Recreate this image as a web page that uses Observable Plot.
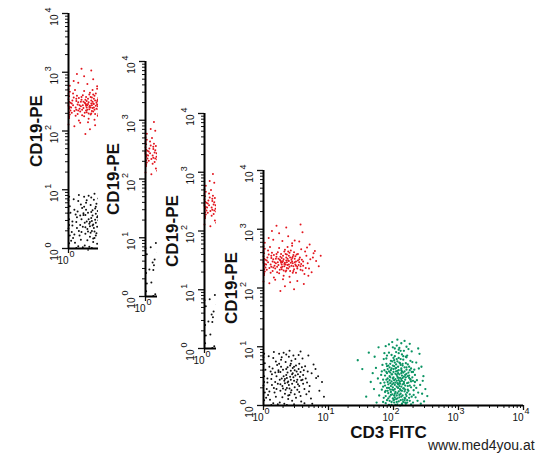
<!DOCTYPE html>
<html>
<head>
<meta charset="utf-8">
<script src="https://cdn.jsdelivr.net/npm/d3@7"></script>
<script src="https://cdn.jsdelivr.net/npm/@observablehq/plot@0.6"></script>
<style>
  html, body { margin: 0; padding: 0; background: #ffffff; }
  #chart { position: relative; width: 540px; height: 453px; overflow: hidden; background: #ffffff; font-family: "Liberation Sans", Arial, sans-serif; }
  #chart svg { position: absolute; }
  #wm { position: absolute; left: 428px; top: 437px; font-size: 14px; color: #222; font-family: "Liberation Sans", Arial, sans-serif; white-space: nowrap; }
</style>
</head>
<body>
<div id="chart"></div>
<script>
// Axis tick values (log decades of fluorescence intensity)
const majorExponents = [0, 1, 2, 3, 4];
const minorMultipliers = [2, 3, 4, 5, 6, 7, 8, 9];
const xTitle = "CD3 FITC";
const yTitle = "CD19-PE";
const watermark = "www.med4you.at";

// Events as [log10 CD3 FITC, log10 CD19-PE]
const redPoints = [
[0.02,2.41],[0.35,2.52],[0.18,2.33],[0.47,2.61],[0.29,2.44],[0.61,2.38],[0.08,2.57],[0.41,2.29],[0.24,2.68],[0.53,2.47],
[0.01,2.22],[0.37,2.39],[0.15,2.49],[0.66,2.55],[0.31,2.21],[0.44,2.72],[0.12,2.36],[0.57,2.31],[0.27,2.58],[0.39,2.46],
[0.00,2.63],[0.49,2.40],[0.21,2.27],[0.72,2.49],[0.33,2.65],[0.05,2.31],[0.45,2.53],[0.19,2.42],[0.58,2.66],[0.36,2.34],
[0.01,2.50],[0.26,2.47],[0.63,2.24],[0.42,2.43],[0.10,2.70],[0.52,2.36],[0.30,2.55],[0.16,2.18],[0.48,2.50],[0.77,2.59],
[0.03,2.35],[0.38,2.62],[0.23,2.39],[0.55,2.44],[0.34,2.28],[0.13,2.60],[0.46,2.37],[0.68,2.42],[0.28,2.51],[0.40,2.19],
[0.00,2.46],[0.51,2.57],[0.20,2.53],[0.60,2.30],[0.32,2.41],[0.07,2.44],[0.43,2.48],[0.25,2.31],[0.56,2.52],[0.37,2.70],
[0.02,2.28],[0.14,2.45],[0.64,2.62],[0.29,2.36],[0.50,2.26],[0.81,2.46],[0.22,2.61],[0.45,2.42],[0.35,2.47],[0.11,2.26],
[0.01,2.59],[0.54,2.39],[0.27,2.43],[0.70,2.33],[0.39,2.55],[0.17,2.38],[0.47,2.32],[0.31,2.49],[0.59,2.48],[0.06,2.52],
[0.09,2.08],[0.33,2.03],[0.52,2.12],[0.26,1.95],[0.41,2.10],[0.18,2.14],[0.62,2.07],[0.47,1.98],[0.30,2.15],[0.00,2.11],
[0.15,2.82],[0.38,2.88],[0.55,2.79],[0.24,2.93],[0.44,2.76],[0.08,2.85],[0.60,2.95],[0.35,3.03],[0.20,3.06],[0.48,2.81],
[0.02,2.77],[0.71,2.74],[0.29,2.80],[0.13,2.97],[0.57,3.08],
[0.36,2.44],[0.43,2.38],[0.28,2.40],[0.50,2.45],[0.32,2.37],[0.41,2.52],[0.25,2.48],[0.46,2.29],[0.38,2.33],[0.53,2.58],
[0.19,2.50],[0.34,2.58],[0.44,2.45],[0.27,2.35],[0.58,2.41],[0.40,2.60],[0.22,2.44],[0.49,2.54],[0.31,2.30],[0.37,2.50],
[0.01,2.38],[0.00,2.54],[0.02,2.67],[0.01,2.32],[0.00,2.43],[0.03,2.48],[0.01,2.25],[0.00,2.71],
[0.85,2.37],[0.76,2.52],[0.67,2.69],[0.74,2.27],[0.65,2.34],[0.79,2.63],[0.88,2.55],[0.69,2.21],
[0.11,2.40],[0.16,2.56],[0.09,2.34],[0.14,2.29],[0.07,2.64],[0.12,2.51],[0.04,2.40],
[0.33,2.43],[0.21,2.36],[0.46,2.56],[0.39,2.40],[0.26,2.53],[0.52,2.33],[0.30,2.46],[0.17,2.44],[0.42,2.64],[0.35,2.30],
[0.55,2.49],[0.24,2.25],[0.48,2.44],[0.12,2.55],[0.36,2.57],[0.61,2.45],[0.28,2.32],[0.44,2.51],[0.20,2.58],[0.40,2.36],
[0.05,2.47],[0.32,2.62],[0.50,2.38],[0.23,2.50],[0.45,2.26],[0.15,2.35],[0.38,2.47],[0.57,2.37],[0.27,2.45],[0.34,2.40]
];

const blackPoints = [
[0.12,0.45],[0.35,0.62],[0.48,0.31],[0.27,0.78],[0.61,0.52],[0.05,0.28],[0.41,0.49],[0.19,0.15],[0.55,0.71],[0.33,0.38],
[0.70,0.24],[0.23,0.57],[0.46,0.85],[0.09,0.66],[0.38,0.11],[0.58,0.43],[0.29,0.33],[0.15,0.81],[0.51,0.58],[0.42,0.22],
[0.64,0.67],[0.01,0.50],[0.36,0.47],[0.25,0.05],[0.53,0.36],[0.18,0.40],[0.45,0.64],[0.74,0.55],[0.31,0.90],[0.07,0.18],
[0.40,0.29],[0.57,0.16],[0.21,0.69],[0.49,0.51],[0.34,0.74],[0.67,0.39],[0.13,0.53],[0.44,0.08],[0.28,0.46],[0.60,0.80],
[0.02,0.72],[0.37,0.56],[0.52,0.27],[0.16,0.30],[0.47,0.42],[0.81,0.47],[0.24,0.88],[0.39,0.35],[0.62,0.60],[0.10,0.10],
[0.33,0.20],[0.56,0.49],[0.20,0.50],[0.43,0.76],[0.71,0.33],[0.06,0.39],[0.30,0.61],[0.50,0.13],[0.26,0.25],[0.65,0.46],
[0.14,0.63],[0.38,0.41],[0.54,0.86],[0.00,0.34],[0.45,0.55],[0.32,0.03],[0.59,0.65],[0.22,0.37],[0.77,0.70],[0.41,0.68],
[0.08,0.84],[0.48,0.19],[0.35,0.52],[0.17,0.22],[0.63,0.28],[0.27,0.66],[0.52,0.44],[0.86,0.25],[0.11,0.58],[0.39,0.83],
[0.44,0.37],[0.29,0.14],[0.57,0.57],[0.03,0.61],[0.36,0.30],[0.68,0.58],[0.19,0.75],[0.47,0.66],[0.25,0.44],[0.73,0.12],
[0.40,0.93],[0.13,0.35],[0.55,0.23],[0.31,0.50],[0.01,0.09],[0.61,0.37],[0.23,0.60],[0.49,0.79],[0.34,0.27],[0.80,0.62],
[0.06,0.46],[0.42,0.59],[0.58,0.07],[0.20,0.28],[0.46,0.48],[0.28,0.82],[0.66,0.19],[0.37,0.65],[0.15,0.04],[0.53,0.53],
[0.90,0.40],[0.32,0.42],[0.00,0.82],[0.43,0.26],[0.24,0.71],[0.60,0.44],[0.09,0.24],[0.50,0.68],[0.38,0.17],[0.18,0.56],
[0.93,0.15],[0.26,0.36],[0.54,0.62],[0.04,0.13],[0.69,0.85],[0.35,0.87],[0.12,0.01],[0.47,0.02],[0.63,0.04],[0.22,0.02],
[0.01,0.40],[0.00,0.60],[0.02,0.22],[0.01,0.88],[0.75,0.03],[0.36,0.01],[0.84,0.50],[0.57,0.92],[0.16,0.91],[0.42,0.44],
[0.37,0.39],[0.44,0.53],[0.30,0.29],[0.51,0.40],[0.26,0.57],[0.40,0.18],[0.48,0.60],[0.33,0.45],[0.55,0.33],[0.42,0.71]
];

const greenPoints = [
[2.05,0.32],[1.93,0.58],[2.18,0.12],[2.01,0.77],[2.27,0.41],[1.88,0.25],[2.12,0.63],[1.97,0.06],[2.22,0.50],[2.08,0.89],
[1.84,0.44],[2.15,0.29],[2.03,0.54],[2.31,0.18],[1.95,0.71],[2.10,0.37],[1.90,0.09],[2.24,0.66],[2.06,0.21],[1.99,0.46],
[2.19,0.83],[1.86,0.60],[2.13,0.03],[2.02,0.35],[2.28,0.57],[1.94,0.15],[2.09,0.73],[2.35,0.30],[1.91,0.40],[2.16,0.49],
[2.04,0.11],[1.82,0.27],[2.21,0.38],[2.00,0.62],[2.11,0.93],[1.96,0.33],[2.25,0.08],[2.07,0.47],[1.89,0.80],[2.17,0.24],
[2.33,0.52],[1.98,0.19],[2.14,0.68],[2.03,0.01],[1.87,0.51],[2.20,0.16],[2.06,0.59],[1.92,0.36],[2.29,0.74],[2.10,0.28],
[2.01,0.43],[2.23,0.96],[1.85,0.13],[2.12,0.55],[1.97,0.86],[2.38,0.22],[2.08,0.07],[1.94,0.65],[2.18,0.34],[2.04,0.70],
[1.80,0.38],[2.26,0.45],[2.00,0.26],[2.15,0.78],[1.90,0.55],[2.09,0.14],[2.32,0.61],[1.99,0.99],[2.21,0.05],[2.05,0.52],
[1.83,0.69],[2.13,0.42],[1.96,0.23],[2.27,0.31],[2.02,0.84],[2.17,0.58],[1.88,0.04],[2.11,0.20],[2.36,0.43],[1.95,0.48],
[2.07,0.66],[2.24,0.13],[1.93,0.30],[2.19,0.72],[2.03,0.39],[1.86,0.89],[2.14,0.10],[2.30,0.05],[2.00,0.57],[2.10,0.47],
[1.78,0.17],[2.22,0.27],[1.98,0.75],[2.16,0.37],[2.06,0.02],[1.91,0.62],[2.28,0.92],[2.12,0.32],[1.97,0.41],[2.20,0.54],
[2.41,0.35],[1.87,0.34],[2.08,0.81],[2.25,0.60],[2.01,0.17],[1.94,0.50],[2.15,0.06],[2.04,0.64],[2.34,0.14],[1.89,0.71],
[2.18,0.44],[2.05,1.02],[1.81,0.52],[2.11,0.69],[1.99,0.12],[2.23,0.39],[2.09,0.53],[1.92,0.21],[2.29,0.48],[2.13,0.87],
[2.02,0.28],[1.85,0.79],[2.19,0.19],[2.07,0.36],[2.39,0.63],[1.96,0.60],[2.14,0.47],[2.00,0.09],[2.26,0.76],[1.90,0.30],
[2.17,0.65],[2.03,0.45],[1.76,0.46],[2.21,0.85],[2.10,0.00],[1.95,0.38],[2.31,0.26],[2.06,0.75],[1.88,0.16],[2.16,0.29],
[2.44,0.20],[1.98,0.53],[2.12,0.15],[2.24,0.51],[2.01,0.67],[1.84,0.06],[2.20,0.61],[2.08,0.24],[1.93,0.90],[2.27,0.02],
[2.05,0.42],[2.15,0.56],[1.97,0.01],[2.33,0.40],[1.91,0.46],[2.11,0.79],[2.02,0.20],[2.22,0.70],[1.86,0.39],[2.18,0.05],
[2.07,0.55],[1.99,0.31],[2.35,0.73],[2.13,0.25],[1.94,0.08],[2.25,0.34],[2.04,0.91],[1.82,0.58],[2.19,0.48],[2.09,0.38],
[1.73,0.64],[2.28,0.15],[2.00,0.48],[2.16,0.93],[1.96,0.18],[2.12,0.60],[2.37,0.08],[1.89,0.44],[2.06,0.12],[2.23,0.25],
[2.14,0.36],[2.01,0.05],[1.92,0.68],[2.30,0.57],[2.08,0.43],[2.20,0.82],[1.87,0.23],[2.03,0.63],[2.17,0.13],[1.95,0.56],
[2.26,0.44],[2.10,0.72],[1.98,0.27],[2.46,0.50],[2.05,0.17],[1.84,0.32],[2.21,0.09],[2.13,0.51],[1.90,0.85],[2.32,0.34],
[1.45,0.77],[1.58,0.15],[1.65,0.40],[1.62,0.90],[1.70,0.28],[1.68,0.55],[1.74,0.05],[1.52,0.62],[1.71,0.83],[1.77,0.99],
[2.49,0.28],[2.47,0.07],[2.43,0.66],[2.40,0.88],[2.45,0.42],[2.52,0.16],[2.42,0.03],[2.38,0.97],
[1.98,1.08],[2.12,1.06],[2.06,1.12],[1.93,1.04],[2.20,1.00],[2.17,1.10],[2.02,0.97],[1.88,1.01],[2.25,1.05],[2.09,0.98],
[2.02,0.14],[2.16,0.40],[1.95,0.27],[2.08,0.60],[2.21,0.22],[1.99,0.68],[2.11,0.09],[2.05,0.79],[2.24,0.47],[1.92,0.12],
[2.14,0.71],[2.00,0.38],[2.19,0.03],[2.07,0.30],[1.97,0.53],[2.27,0.63],[2.09,0.18],[1.94,0.43],[2.13,0.58],[2.03,0.23],
[2.22,0.33],[1.90,0.67],[2.06,0.49],[2.18,0.27],[2.01,0.10],[2.15,0.84],[1.96,0.76],[2.10,0.41],[2.25,0.19],[2.04,0.58],
[1.93,0.01],[2.12,0.45],[2.20,0.65],[1.98,0.36],[2.08,0.95],[2.17,0.09],[2.02,0.73],[1.89,0.57],[2.23,0.56],[2.11,0.26],
[2.05,0.06],[1.97,0.63],[2.14,0.17],[2.30,0.42],[2.00,0.81],[2.09,0.33],[1.91,0.25],[2.18,0.52],[2.06,0.38],[2.13,0.01]
];

const majorTicks = majorExponents.map(e => 10 ** e);
const minorTicks = majorExponents.slice(0, -1).flatMap(e => minorMultipliers.map(m => m * 10 ** e));
const fx = d => 10 ** d[0];
const fy = d => 10 ** d[1];
const font = "'Liberation Sans', Arial, sans-serif";

function panel(red, black, green, front) {
  const xLabelExps = front ? majorExponents : majorExponents.slice(0, 1);
  const marks = [
    Plot.dot(black, { x: fx, y: fy, r: 1, fill: "#111111" }),
    Plot.dot(red, { x: fx, y: fy, r: 1, fill: "#e3161e" }),
    Plot.dot(green, { x: fx, y: fy, r: 1.15, fill: "#0b9463" }),
    Plot.axisY(minorTicks, { anchor: "left", tickSize: 3, tickFormat: () => "", label: null, stroke: "#111" }),
    Plot.axisY(majorTicks, { anchor: "left", tickSize: 6, tickFormat: () => "", label: null, stroke: "#111", strokeWidth: 1.3 }),
    Plot.axisX(minorTicks, { anchor: "bottom", tickSize: 3, tickFormat: () => "", label: null, stroke: "#111" }),
    Plot.axisX(majorTicks, { anchor: "bottom", tickSize: 5, tickFormat: () => "", label: null, stroke: "#111", strokeWidth: 1.3 }),
    Plot.ruleX([1], { stroke: "#000", strokeWidth: 2 }),
    Plot.ruleY([1], { stroke: "#000", strokeWidth: 2 }),
    // y tick labels (rotated "10" + exponent)
    Plot.text(majorExponents, { x: 1, y: e => 10 ** e, text: () => "10", rotate: -90, textAnchor: "end", lineAnchor: "middle", dx: -14, dy: 1, fontSize: 10, fill: "#111" }),
    Plot.text(majorExponents, { x: 1, y: e => 10 ** e, text: e => String(e), rotate: -90, textAnchor: "start", lineAnchor: "middle", dx: -20, dy: -1, fontSize: 9, fill: "#111" }),
    // x tick labels ("10" + exponent)
    Plot.text(xLabelExps, { x: e => 10 ** e, frameAnchor: "bottom", text: () => "10", textAnchor: "end", lineAnchor: "middle", dy: 12, fontSize: 10, fill: "#111" }),
    Plot.text(xLabelExps, { x: e => 10 ** e, frameAnchor: "bottom", text: e => String(e), textAnchor: "start", lineAnchor: "middle", dy: 6, dx: 1, fontSize: 9, fill: "#111" }),
    // y axis title
    Plot.text([yTitle], { frameAnchor: "left", rotate: -90, dx: -32, text: d => d, fontSize: 17, fontWeight: "bold", textAnchor: "middle", lineAnchor: "middle", fill: "#111" })
  ];
  if (front) {
    marks.push(Plot.text([xTitle], { frameAnchor: "bottom", dy: 27.5, dx: -5, text: d => d, fontSize: 17, fontWeight: "bold", textAnchor: "middle", lineAnchor: "middle", fill: "#111" }));
  }
  return Plot.plot({
    width: 324, height: 290,
    marginLeft: 47, marginRight: 17, marginTop: 15, marginBottom: 40,
    style: { background: "white", fontFamily: font, overflow: "hidden" },
    x: { type: "log", domain: [1, 1e4], axis: null },
    y: { type: "log", domain: [1, 1e4], axis: null },
    marks
  });
}

const chart = document.getElementById("chart");
const sparseBlack = blackPoints.filter((d, i) => i % 2 === 0);
const panels = [
  { left: 21, top: -2, red: redPoints, black: blackPoints, front: false },
  { left: 98, top: 46, red: redPoints, black: sparseBlack, front: false },
  { left: 157, top: 98, red: redPoints, black: sparseBlack, front: false },
  { left: 216, top: 155, red: redPoints, black: blackPoints, front: true }
];
for (const p of panels) {
  const svg = panel(p.red, p.black, greenPoints, p.front);
  svg.style.position = "absolute";
  svg.style.left = p.left + "px";
  svg.style.top = p.top + "px";
  chart.appendChild(svg);
}
const wm = document.createElement("div");
wm.id = "wm";
wm.textContent = watermark;
chart.appendChild(wm);
</script>
</body>
</html>
